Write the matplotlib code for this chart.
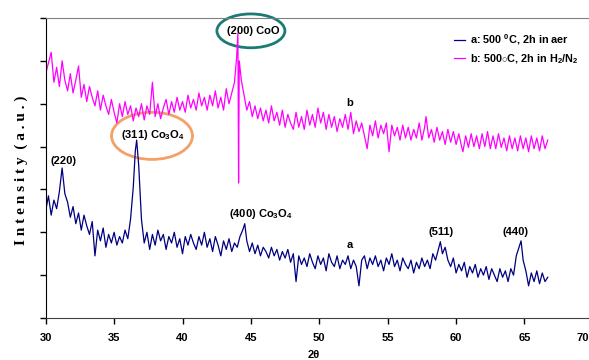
import matplotlib
matplotlib.use("Agg")
import matplotlib.pyplot as plt
from matplotlib.patches import Ellipse
from matplotlib.transforms import ScaledTranslation

# sample a: 500 C, 2h in air (navy)
two_theta_a = [30.0, 30.2, 30.4, 30.6, 30.8, 31.0, 31.2, 31.4, 31.6, 31.8,
               32.0, 32.2, 32.4, 32.6, 32.8, 33.0, 33.2, 33.4, 33.6, 33.8,
               34.0, 34.2, 34.4, 34.6, 34.8, 35.0, 35.2, 35.4, 35.6, 35.8,
               36.0, 36.2, 36.4, 36.55, 36.65, 36.8, 37.0, 37.2, 37.4, 37.6,
               37.8, 38.0, 38.2, 38.4, 38.6, 38.8, 39.0, 39.2, 39.4, 39.6,
               39.8, 40.0, 40.2, 40.4, 40.6, 40.8, 41.0, 41.2, 41.4, 41.6,
               41.8, 42.0, 42.2, 42.4, 42.6, 42.8, 43.0, 43.2, 43.4, 43.6,
               43.8, 44.0, 44.2, 44.4, 44.55, 44.7, 44.9, 45.1, 45.3, 45.5,
               45.7, 45.9, 46.1, 46.3, 46.5, 46.7, 46.9, 47.1, 47.3, 47.5,
               47.7, 47.9, 48.1, 48.3, 48.5, 48.7, 48.9, 49.1, 49.3, 49.5,
               49.7, 49.9, 50.1, 50.3, 50.5, 50.7, 50.9, 51.1, 51.3, 51.5,
               51.7, 51.9, 52.1, 52.3, 52.5, 52.7, 52.9, 53.1, 53.3, 53.5,
               53.7, 53.9, 54.1, 54.3, 54.5, 54.7, 54.9, 55.1, 55.3, 55.5,
               55.7, 55.9, 56.1, 56.3, 56.5, 56.7, 56.9, 57.1, 57.3, 57.5,
               57.7, 57.9, 58.1, 58.3, 58.5, 58.7, 58.85, 59.0, 59.2, 59.4,
               59.6, 59.8, 60.0, 60.2, 60.4, 60.6, 60.8, 61.0, 61.2, 61.4,
               61.6, 61.8, 62.0, 62.2, 62.4, 62.6, 62.8, 63.0, 63.2, 63.4,
               63.6, 63.8, 64.0, 64.2, 64.4, 64.6, 64.75, 64.9, 65.1, 65.3,
               65.5, 65.7, 65.9, 66.1, 66.3, 66.5, 66.7]
intensity_a = [2.50, 2.85, 2.40, 2.75, 2.55, 2.95, 3.50, 2.90, 2.70, 2.35,
               2.60, 2.20, 2.45, 2.05, 2.40, 2.15, 1.95, 2.25, 1.45, 2.05,
               1.80, 2.10, 1.65, 1.95, 1.75, 2.00, 1.70, 1.90, 1.75, 2.05,
               1.85, 2.30, 3.05, 3.90, 4.15, 3.55, 2.30, 1.75, 2.00, 1.60,
               1.95, 1.70, 2.05, 1.80, 1.95, 1.60, 1.90, 1.75, 2.00, 1.65,
               1.85, 1.50, 1.90, 1.70, 1.95, 1.75, 1.60, 1.90, 1.70, 2.00,
               1.65, 1.85, 1.55, 1.90, 1.70, 1.45, 1.80, 1.60, 1.85, 1.55,
               1.75, 1.65, 1.90, 2.05, 2.20, 1.80, 1.55, 1.75, 1.50, 1.70,
               1.45, 1.65, 1.55, 1.40, 1.65, 1.45, 1.60, 1.35, 1.55, 1.40,
               1.60, 1.30, 1.50, 0.85, 1.45, 1.25, 1.40, 1.20, 1.50, 1.30,
               1.15, 1.45, 1.25, 1.40, 1.10, 1.50, 1.30, 1.20, 1.45, 1.15,
               1.35, 1.25, 1.45, 1.15, 1.35, 1.20, 0.75, 1.35, 1.45, 1.15,
               1.40, 1.25, 1.45, 1.20, 1.35, 1.10, 1.40, 1.25, 1.50, 1.20,
               1.35, 1.10, 1.40, 1.25, 1.15, 1.35, 1.05, 1.30, 1.15, 1.40,
               1.20, 1.35, 1.15, 1.50, 1.35, 1.60, 1.78, 1.50, 1.65, 1.35,
               1.20, 1.40, 1.05, 1.25, 1.10, 1.30, 0.95, 1.20, 1.05, 1.25,
               0.95, 1.15, 1.00, 1.20, 0.90, 1.15, 1.00, 0.85, 1.15, 0.95,
               1.10, 0.85, 1.15, 1.00, 1.45, 1.65, 1.80, 1.35, 1.10, 0.75,
               1.05, 0.85, 1.10, 0.80, 1.05, 0.85, 0.95]

# sample b: 500 C, 2h in H2/N2 (magenta)
two_theta_b = [30.0, 30.2, 30.4, 30.6, 30.8, 31.0, 31.2, 31.4, 31.6, 31.8,
               32.0, 32.2, 32.4, 32.6, 32.8, 33.0, 33.2, 33.4, 33.6, 33.8,
               34.0, 34.2, 34.4, 34.6, 34.8, 35.0, 35.2, 35.4, 35.6, 35.8,
               36.0, 36.2, 36.4, 36.6, 36.8, 37.0, 37.2, 37.4, 37.6, 37.8,
               38.0, 38.2, 38.4, 38.6, 38.8, 39.0, 39.2, 39.4, 39.6, 39.8,
               40.0, 40.2, 40.4, 40.6, 40.8, 41.0, 41.2, 41.4, 41.6, 41.8,
               42.0, 42.2, 42.4, 42.6, 42.8, 43.0, 43.2, 43.4, 43.6, 43.8,
               43.95, 44.05, 44.1, 44.15, 44.3, 44.5, 44.7, 44.9, 45.1, 45.3,
               45.5, 45.7, 45.9, 46.1, 46.3, 46.5, 46.7, 46.9, 47.1, 47.3,
               47.5, 47.7, 47.9, 48.1, 48.3, 48.5, 48.7, 48.9, 49.1, 49.3,
               49.5, 49.7, 49.9, 50.1, 50.3, 50.5, 50.7, 50.9, 51.1, 51.3,
               51.5, 51.7, 51.9, 52.1, 52.3, 52.5, 52.7, 52.9, 53.1, 53.3,
               53.5, 53.7, 53.9, 54.1, 54.3, 54.5, 54.7, 54.9, 55.1, 55.3,
               55.5, 55.7, 55.9, 56.1, 56.3, 56.5, 56.7, 56.9, 57.1, 57.3,
               57.5, 57.7, 57.8, 58.0, 58.2, 58.4, 58.6, 58.8, 59.0, 59.2,
               59.4, 59.6, 59.8, 60.0, 60.2, 60.4, 60.5, 60.7, 60.9, 61.1,
               61.3, 61.5, 61.7, 61.9, 62.1, 62.3, 62.5, 62.7, 62.9, 63.1,
               63.3, 63.5, 63.7, 63.9, 64.1, 64.3, 64.5, 64.7, 64.9, 65.1,
               65.3, 65.5, 65.7, 65.9, 66.1, 66.3, 66.5, 66.7]
intensity_b = [5.70, 5.95, 6.20, 5.50, 5.85, 5.40, 6.00, 5.55, 5.30, 5.70,
               5.25, 5.55, 5.88, 5.15, 5.45, 5.05, 5.40, 5.15, 4.95, 5.30,
               4.85, 5.20, 4.95, 4.75, 5.10, 4.80, 4.55, 5.00, 4.70, 5.05,
               4.75, 4.95, 4.60, 4.90, 4.70, 5.00, 4.62, 4.95, 4.75, 5.50,
               4.70, 5.00, 4.65, 4.90, 5.10, 4.75, 5.05, 4.80, 5.15, 4.85,
               5.05, 4.80, 5.20, 4.90, 5.10, 4.85, 5.25, 4.95, 5.15, 4.85,
               5.20, 4.95, 5.30, 4.90, 5.15, 4.85, 5.35, 5.00, 5.25, 5.50,
               6.05, 6.65, 3.15, 6.00, 5.55, 5.20, 4.85, 5.05, 4.70, 4.95,
               4.65, 4.90, 4.60, 4.85, 4.55, 4.95, 4.60, 4.80, 4.50, 4.85,
               4.45, 4.75, 4.55, 4.40, 4.80, 4.45, 4.70, 4.40, 4.85, 4.50,
               4.75, 4.45, 4.90, 4.55, 4.80, 4.40, 4.75, 4.45, 4.70, 4.35,
               4.65, 4.45, 4.75, 4.40, 4.80, 4.30, 4.60, 4.35, 4.55, 4.25,
               3.95, 4.50, 4.25, 4.60, 4.20, 4.50, 4.30, 4.55, 3.88, 4.50,
               4.25, 4.45, 4.15, 4.50, 4.20, 4.45, 4.15, 4.40, 4.20, 4.55,
               4.15, 4.45, 4.70, 4.20, 4.40, 4.10, 4.45, 4.15, 4.35, 4.05,
               4.40, 4.10, 4.35, 4.05, 4.30, 4.00, 3.88, 4.25, 3.98, 4.30,
               4.00, 4.25, 3.95, 4.30, 4.00, 4.35, 3.95, 4.25, 3.95, 4.30,
               3.98, 4.20, 3.90, 4.25, 3.95, 4.20, 3.90, 4.25, 3.95, 4.20,
               3.88, 4.25, 3.95, 4.20, 3.90, 4.25, 3.95, 4.15]

x_ticks = [30, 35, 40, 45, 50, 55, 60, 65, 70]
legend_labels = [r"a: 500 $^0$C, 2h in aer", r"b: 500$\circ$C, 2h in H$_2$/N$_2$"]

plt.rcParams['font.family'] = ['Liberation Sans', 'DejaVu Sans']
plt.rcParams['font.weight'] = 'bold'
plt.rcParams['mathtext.fontset'] = 'custom'
plt.rcParams['mathtext.rm'] = 'Liberation Sans:bold'
plt.rcParams['mathtext.bf'] = 'Liberation Sans:bold'
plt.rcParams['mathtext.it'] = 'Liberation Sans:bold'
plt.rcParams['mathtext.default'] = 'bf'

fig = plt.figure(figsize=(5.89, 3.6), dpi=100)
# right edge of the axes runs past the picture, like the original
ax = fig.add_axes([0.0776, 0.1167, 0.929, 0.8333])

ax.plot(two_theta_a, intensity_a, color='#000080', lw=0.9, label=legend_labels[0])
ax.plot(two_theta_b, intensity_b, color='#ff00ff', lw=0.9, label=legend_labels[1])

ax.set_xlim(30, 70)
ax.set_ylim(0, 7)
ax.set_xticks(x_ticks)
ax.set_yticks(range(0, 8))
ax.set_yticklabels([])
ax.tick_params(direction='out', length=4, width=1, labelsize=8, pad=7)
for lbl in ax.get_xticklabels():
    lbl.set_fontweight('bold')
# last label is pulled inside the picture
last = ax.xaxis.get_major_ticks()[-1].label1
last.set_transform(last.get_transform() + ScaledTranslation(-0.105, 0, fig.dpi_scale_trans))

ax.spines['top'].set_color('#808080')
ax.spines['bottom'].set_color('#404040')
ax.spines['left'].set_color('black')
ax.spines['right'].set_visible(False)

fig.text(314 / 589, 1 - 355 / 360, '2θ', ha='center', va='center', fontsize=8, fontweight='bold')
fig.text(21 / 589, 1 - 170 / 360, 'I n t e n s i t y  ( a . u . )', rotation=90,
         ha='center', va='center', family='Liberation Serif', fontweight='bold', fontsize=11)

# peak labels
kw = dict(ha='center', va='center', fontsize=8, fontweight='bold')
ax.text(31.3, 3.67, '(220)', **kw)
ax.text(37.84, 4.27, r'(311) Co$_3$O$_4$', **kw)
ax.text(45.14, 6.70, '(200) CoO', **kw)
ax.text(45.74, 2.43, r'(400) Co$_3$O$_4$', **kw)
ax.text(52.24, 1.70, 'a', **kw)
ax.text(52.24, 5.02, 'b', **kw)
ax.text(58.89, 2.01, '(511)', **kw)
ax.text(64.37, 2.01, '(440)', **kw)

ax.add_patch(Ellipse((37.77, 4.25), 5.92, 1.10, fill=False, ec='#f5a066', lw=2, clip_on=False))
ax.add_patch(Ellipse((45.0, 6.70), 4.97, 0.79, fill=False, ec='#1b7b74', lw=2, clip_on=False))

ax.legend(loc='upper left', bbox_to_anchor=(449 / 589, 1 - 27 / 360), bbox_transform=fig.transFigure,
          frameon=False, handlelength=1.0, handletextpad=0.4, borderpad=0,
          labelspacing=0.45, prop={'weight': 'bold', 'size': 7.8})

fig.savefig('out.png', dpi=100)
